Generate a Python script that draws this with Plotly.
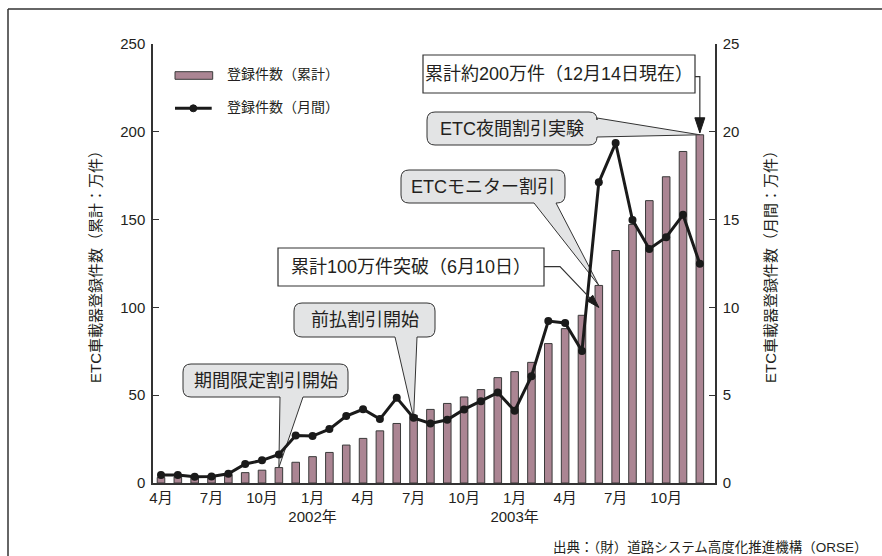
import plotly.graph_objects as go

# ---------------- data ----------------
months = ["2001-04", "2001-05", "2001-06", "2001-07", "2001-08", "2001-09", "2001-10", "2001-11", "2001-12",
          "2002-01", "2002-02", "2002-03", "2002-04", "2002-05", "2002-06", "2002-07", "2002-08", "2002-09",
          "2002-10", "2002-11", "2002-12",
          "2003-01", "2003-02", "2003-03", "2003-04", "2003-05", "2003-06", "2003-07", "2003-08", "2003-09",
          "2003-10", "2003-11", "2003-12"]
cumulative = [3.1, 3.5, 3.9, 4.3, 4.8, 5.9, 7.3, 8.8, 11.8,
              15.0, 17.4, 21.6, 25.4, 29.7, 33.9, 38.6, 41.9, 45.3, 49.0, 53.2, 60.0,
              63.4, 68.7, 79.4, 87.9, 95.5, 112.5, 132.4, 147.2, 160.8, 174.4, 188.8, 198.3]
monthly = [0.45, 0.45, 0.36, 0.37, 0.53, 1.08, 1.29, 1.63, 2.7,
           2.67, 3.07, 3.81, 4.2, 3.64, 4.85, 3.71, 3.39, 3.6, 4.19, 4.66, 5.15,
           4.11, 6.08, 9.22, 9.11, 7.52, 17.12, 19.36, 14.98, 13.33, 14.0, 15.27, 12.48]
tick_months = ["2001-04", "2001-07", "2001-10", "2002-01", "2002-04", "2002-07", "2002-10",
               "2003-01", "2003-04", "2003-07", "2003-10"]
tick_labels = ["4月", "7月", "10月", "1月<br>2002年", "4月", "7月", "10月", "1月<br>2003年", "4月", "7月", "10月"]
series_names = ["登録件数（累計）", "登録件数（月間）"]
milestone = 100  # 累計100万件

y_left_title = "ETC車載器登録件数（累計：万件）"
y_right_title = "ETC車載器登録件数（月間：万件）"
source_text = "出典：（財）道路システム高度化推進機構（ORSE）"

# ---------------- layout constants (pixels) ----------------
FW, FH = 882, 556
L, R, T, B = 153, 715, 44, 483
X0, X1 = -0.475, 32.9
YTOP, Y2TOP = 250, 25

FONT = "Liberation Sans, Arial, 'Noto Sans CJK JP', sans-serif"
TXT = "#231f20"
AX = "#333333"
BAR_FILL = "#ab8593"
BAR_LINE = "#3a3a3a"
BALLOON_FILL = "#e3e4e5"

idx = {m: i for i, m in enumerate(months)}
xs = list(range(len(months)))


def to_data(px, py):
    return X0 + (px - L) * (X1 - X0) / (R - L), (B - py) * YTOP / (B - T)


def from_data(x, y, top=YTOP):
    return L + (x - X0) * (R - L) / (X1 - X0), B - y * (B - T) / top


def to_paper(px, py):
    return (px - L) / (R - L), (B - py) / (B - T)


def path_str(cmds):
    out = []
    for c, pts in cmds:
        out.append(c + " ".join("%.4f,%.4f" % to_data(*p) for p in pts))
    return " ".join(out) + " Z"


def balloon(x0, y0, x1, y1, r, side, a, b, tip):
    P = [("M", [(x0 + r, y0)]), ("L", [(x1 - r, y0)]), ("Q", [(x1, y0), (x1, y0 + r)])]
    if side == "right":
        P += [("L", [(x1, a)]), ("L", [tip]), ("L", [(x1, b)])]
    P += [("L", [(x1, y1 - r)]), ("Q", [(x1, y1), (x1 - r, y1)])]
    if side == "bottom":
        P += [("L", [(b, y1)]), ("L", [tip]), ("L", [(a, y1)])]
    P += [("L", [(x0 + r, y1)]), ("Q", [(x0, y1), (x0, y1 - r)]),
          ("L", [(x0, y0 + r)]), ("Q", [(x0, y0), (x0 + r, y0)])]
    return path_str(P)


def line_path(pts):
    return " ".join(("M" if k == 0 else "L") + "%.4f,%.4f" % to_data(*p) for k, p in enumerate(pts))


def arrow_head(tail, tip, length=12, half=4.5):
    dx, dy = tip[0] - tail[0], tip[1] - tail[1]
    n = (dx * dx + dy * dy) ** 0.5
    ux, uy = dx / n, dy / n
    bx, by = tip[0] - ux * length, tip[1] - uy * length
    p1 = (bx - uy * half, by + ux * half)
    p2 = (bx + uy * half, by - ux * half)
    return path_str([("M", [tip]), ("L", [p1]), ("L", [p2])])


fig = go.Figure()
fig.add_trace(go.Bar(x=xs, y=cumulative, name=series_names[0], width=0.45,
                     marker=dict(color=BAR_FILL, line=dict(color=BAR_LINE, width=1)),
                     customdata=months, showlegend=False))
fig.add_trace(go.Scatter(x=xs, y=monthly, name=series_names[1], yaxis="y2", mode="lines+markers",
                         line=dict(color="#1a1a1a", width=3), marker=dict(color="#1a1a1a", size=8),
                         customdata=months, showlegend=False))

shapes = []
annotations = []

# ---- balloons ----
i = idx["2001-11"]
tip1 = from_data(i, cumulative[i])
i = idx["2002-07"]
tip2 = from_data(i, monthly[i], Y2TOP)
i = idx["2003-06"]
tip4 = from_data(i, cumulative[i])
i = idx["2003-12"]
tip5 = from_data(i, cumulative[i])

balloons = [
    ("期間限定割引開始", (183, 364, 348, 397), "bottom", 280, 303, tip1),
    ("前払割引開始", (294, 303, 435, 337), "bottom", 395, 417, tip2),
    ("ETCモニター割引", (401, 170, 565, 203), "bottom", 534, 556, tip4),
    ("ETC夜間割引実験", (427, 112, 597, 145), "right", 118, 137, tip5),
]
for text, (x0, y0, x1, y1), side, a, b, tip in balloons:
    shapes.append(dict(type="path", xref="x", yref="y", path=balloon(x0, y0, x1, y1, 8, side, a, b, tip),
                       fillcolor=BALLOON_FILL, line=dict(color=AX, width=1), layer="below"))
    cx, cy = to_data((x0 + x1) / 2, (y0 + y1) / 2)
    annotations.append(dict(x=cx, y=cy, xref="x", yref="y", text=text, showarrow=False,
                            font=dict(size=18, color=TXT), xanchor="center", yanchor="middle"))

# ---- boxed labels with arrows ----
# 累計100万件突破
bx0, by0, bx1, by1 = 278, 248, 544, 286
i = idx["2003-06"]
tip6 = from_data(i, milestone)
elbow6 = (560, 266.7)
shapes.append(dict(type="path", xref="x", yref="y",
                   path=path_str([("M", [(bx0, by0)]), ("L", [(bx1, by0)]), ("L", [(bx1, by1)]), ("L", [(bx0, by1)])]),
                   fillcolor="white", line=dict(color=AX, width=1.2)))
shapes.append(dict(type="path", xref="x", yref="y", path=line_path([(bx1, 266.7), elbow6, tip6]),
                   line=dict(color=AX, width=1.2)))
shapes.append(dict(type="path", xref="x", yref="y", path=arrow_head(elbow6, tip6, 13, 4),
                   fillcolor="#1a1a1a", line=dict(color="#1a1a1a", width=1)))
cx, cy = to_data((bx0 + bx1) / 2, (by0 + by1) / 2)
annotations.append(dict(x=cx, y=cy, xref="x", yref="y", text="累計100万件突破（6月10日）", showarrow=False,
                        font=dict(size=18, color=TXT), xanchor="center", yanchor="middle"))

# 累計約200万件
bx0, by0, bx1, by1 = 423, 55, 695, 93
tip7 = (tip5[0], tip5[1] - 2)
corner7 = (tip7[0], 76.7)
shapes.append(dict(type="path", xref="x", yref="y",
                   path=path_str([("M", [(bx0, by0)]), ("L", [(bx1, by0)]), ("L", [(bx1, by1)]), ("L", [(bx0, by1)])]),
                   fillcolor="white", line=dict(color=AX, width=1.2)))
shapes.append(dict(type="path", xref="x", yref="y", path=line_path([(bx1, 76.7), corner7, tip7]),
                   line=dict(color=AX, width=1.2)))
shapes.append(dict(type="path", xref="x", yref="y", path=arrow_head(corner7, tip7, 15, 5),
                   fillcolor="#1a1a1a", line=dict(color="#1a1a1a", width=1)))
cx, cy = to_data((bx0 + bx1) / 2, (by0 + by1) / 2)
annotations.append(dict(x=cx, y=cy, xref="x", yref="y", text="累計約200万件（12月14日現在）", showarrow=False,
                        font=dict(size=18, color=TXT), xanchor="center", yanchor="middle"))

# ---- custom legend ----
p0 = to_paper(175, 71.7)
p1 = to_paper(212.7, 79.3)
shapes.append(dict(type="rect", xref="paper", yref="paper", x0=p0[0], y0=p0[1], x1=p1[0], y1=p1[1],
                   fillcolor=BAR_FILL, line=dict(color=BAR_LINE, width=1)))
p0 = to_paper(175, 108.3)
p1 = to_paper(211.7, 108.3)
shapes.append(dict(type="line", xref="paper", yref="paper", x0=p0[0], y0=p0[1], x1=p1[0], y1=p1[1],
                   line=dict(color="#1a1a1a", width=3)))
c0 = to_paper(193.3 - 3.5, 108.3 - 3.5)
c1 = to_paper(193.3 + 3.5, 108.3 + 3.5)
shapes.append(dict(type="circle", xref="paper", yref="paper", x0=c0[0], y0=c0[1], x1=c1[0], y1=c1[1],
                   fillcolor="#1a1a1a", line=dict(color="#1a1a1a", width=1)))
for name, py in zip(series_names, [74, 107]):
    px_, py_ = to_paper(225, py)
    annotations.append(dict(x=px_, y=py_, xref="paper", yref="paper", text=name, showarrow=False,
                            font=dict(size=14, color=TXT), xanchor="left", yanchor="middle"))

# ---- axis titles & source ----
px_, py_ = to_paper(95, 263)
annotations.append(dict(x=px_, y=py_, xref="paper", yref="paper", text=y_left_title, showarrow=False,
                        textangle=-90, font=dict(size=15, color=TXT), xanchor="center", yanchor="middle"))
px_, py_ = to_paper(770, 263)
annotations.append(dict(x=px_, y=py_, xref="paper", yref="paper", text=y_right_title, showarrow=False,
                        textangle=-90, font=dict(size=15, color=TXT), xanchor="center", yanchor="middle"))
px_, py_ = to_paper(870, 547)
annotations.append(dict(x=px_, y=py_, xref="paper", yref="paper", text=source_text, showarrow=False,
                        font=dict(size=13.5, color=TXT), xanchor="right", yanchor="middle"))

# ---- outer frame ----
a0 = to_paper(8, 9)
a1 = to_paper(FW + 2, 9)
a2 = to_paper(8, FH + 2)
shapes.append(dict(type="line", xref="paper", yref="paper", x0=a0[0], y0=a0[1], x1=a1[0], y1=a1[1],
                   line=dict(color=AX, width=1.5)))
shapes.append(dict(type="line", xref="paper", yref="paper", x0=a0[0], y0=a0[1], x1=a2[0], y1=a2[1],
                   line=dict(color=AX, width=1.5)))

fig.update_layout(
    width=FW, height=FH,
    margin=dict(l=L, r=FW - R, t=T, b=FH - B, pad=0),
    paper_bgcolor="white", plot_bgcolor="white",
    font=dict(family=FONT, size=15, color=TXT),
    bargap=0.5,
    xaxis=dict(range=[X0, X1], tickvals=[idx[m] for m in tick_months], ticktext=tick_labels,
               showline=True, linecolor=AX, linewidth=1.5, ticks="", showgrid=False, zeroline=False,
               tickfont=dict(size=15, color=TXT)),
    yaxis=dict(range=[0, YTOP], tickvals=[0, 50, 100, 150, 200, 250], showline=True, linecolor=AX, linewidth=1.5,
               ticks="inside", ticklen=6, tickcolor=AX, showgrid=False, zeroline=False,
               tickfont=dict(size=15, color=TXT), ticklabelstandoff=3),
    yaxis2=dict(range=[0, Y2TOP], tickvals=[0, 5, 10, 15, 20, 25], overlaying="y", side="right", anchor="x",
                showline=True, linecolor=AX, linewidth=1.5, ticks="inside", ticklen=6, tickcolor=AX,
                showgrid=False, zeroline=False, tickfont=dict(size=15, color=TXT), ticklabelstandoff=3),
    shapes=shapes, annotations=annotations, showlegend=False,
)

fig.write_html("out.html")
